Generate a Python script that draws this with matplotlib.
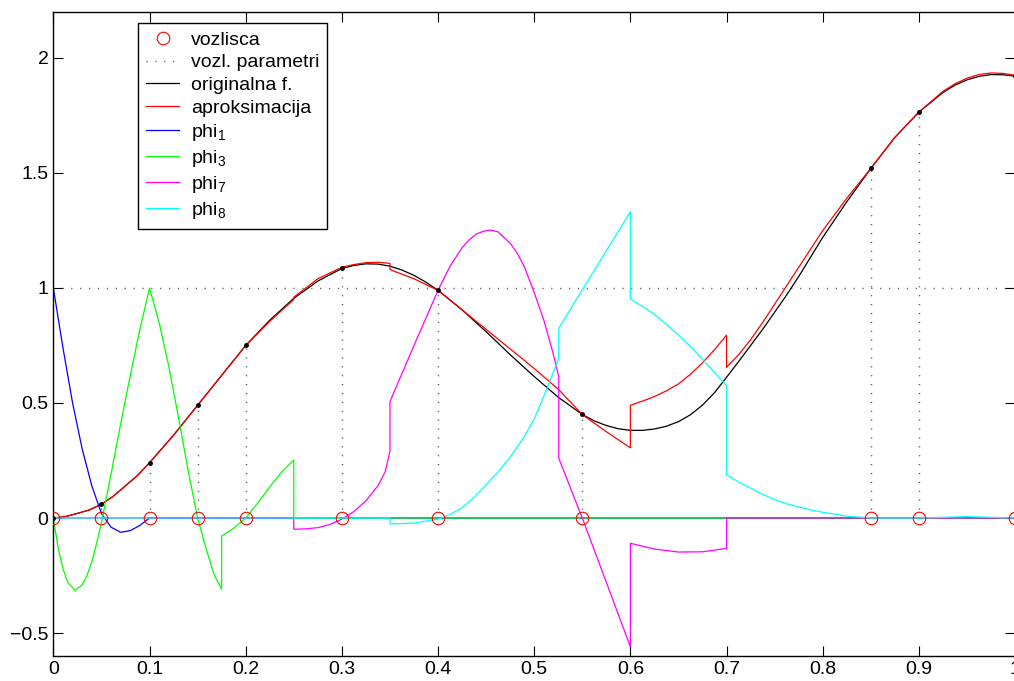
import matplotlib
matplotlib.use("Agg")
import matplotlib.pyplot as plt

plt.rcParams['font.family'] = ['Liberation Sans', 'DejaVu Sans']
plt.rcParams['mathtext.default'] = 'regular'

# vozlisca in vrednosti originalne funkcije v njih
x_nodes = [0, 0.05, 0.1, 0.15, 0.2, 0.3, 0.4, 0.55, 0.85, 0.9, 1.0]
f_nodes = [0, 0.06, 0.24, 0.49, 0.75, 1.085, 0.99, 0.45, 1.52, 1.765, 1.92]

# originalna funkcija
orig_x = [0, 0.0125, 0.025, 0.0375, 0.05, 0.0625, 0.075, 0.0875, 0.1, 0.125,
          0.15, 0.175, 0.2, 0.225, 0.25, 0.275, 0.3, 0.3125, 0.325, 0.3375,
          0.35, 0.3625, 0.375, 0.3875, 0.4, 0.425, 0.45, 0.475, 0.5, 0.525,
          0.55, 0.5625, 0.575, 0.5875, 0.6, 0.6125, 0.625, 0.6375, 0.65, 0.6625,
          0.675, 0.6875, 0.7, 0.7125, 0.725, 0.7375, 0.75, 0.7625, 0.775, 0.8,
          0.825, 0.85, 0.875, 0.9, 0.925, 0.9375, 0.95, 0.9625, 0.975, 0.9875, 1.0]
orig_y = [0.0, 0.006, 0.02, 0.035, 0.06, 0.095, 0.14, 0.185, 0.24, 0.36,
          0.49, 0.62, 0.75, 0.86, 0.955, 1.03, 1.085, 1.098, 1.105, 1.104,
          1.095, 1.078, 1.055, 1.025, 0.99, 0.905, 0.81, 0.71, 0.615, 0.525,
          0.45, 0.422, 0.402, 0.388, 0.381, 0.381, 0.387, 0.399, 0.419, 0.449,
          0.491, 0.545, 0.612, 0.68, 0.75, 0.82, 0.895, 0.97, 1.05, 1.22,
          1.375, 1.52, 1.655, 1.765, 1.85, 1.882, 1.905, 1.92, 1.928, 1.927, 1.921]

# aproksimacija (podvojeni x so skoki)
apr_x = [0, 0.0125, 0.025, 0.0375, 0.05, 0.0625, 0.075, 0.0875, 0.1, 0.125,
         0.15, 0.175, 0.2, 0.225, 0.25, 0.25, 0.2625, 0.275, 0.3, 0.3125,
         0.325, 0.3375, 0.35, 0.35, 0.375, 0.4, 0.425, 0.45, 0.475, 0.5,
         0.525, 0.55, 0.575, 0.6, 0.6, 0.6125, 0.625, 0.6375, 0.65, 0.6625,
         0.675, 0.6875, 0.7, 0.7, 0.7125, 0.725, 0.7375, 0.75, 0.7625, 0.775,
         0.7875, 0.8, 0.8125, 0.825, 0.8375, 0.85, 0.875, 0.9, 0.925, 0.9375,
         0.95, 0.9625, 0.975, 0.9875, 1.0]
apr_y = [0.0, 0.006, 0.02, 0.035, 0.06, 0.095, 0.14, 0.185, 0.24, 0.36,
         0.49, 0.62, 0.75, 0.855, 0.95, 0.96, 1.0, 1.04, 1.09, 1.102,
         1.11, 1.112, 1.107, 1.08, 1.04, 0.99, 0.905, 0.82, 0.735, 0.65,
         0.56, 0.45, 0.375, 0.305, 0.49, 0.508, 0.528, 0.553, 0.583, 0.625,
         0.675, 0.732, 0.795, 0.655, 0.71, 0.775, 0.85, 0.93, 1.01, 1.09,
         1.17, 1.25, 1.32, 1.39, 1.455, 1.52, 1.655, 1.765, 1.855, 1.888,
         1.912, 1.928, 1.935, 1.933, 1.925]

phi1_x = [0, 0.01, 0.02, 0.03, 0.04, 0.05, 0.06, 0.07, 0.08, 0.09, 0.1, 1.0]
phi1_y = [1.0, 0.74, 0.50, 0.30, 0.14, 0.02, -0.04, -0.062, -0.055, -0.032, 0.0, 0.0]

phi3_x = [0, 0.005, 0.01, 0.015, 0.0225, 0.03, 0.035, 0.04, 0.045, 0.05,
          0.06, 0.07, 0.08, 0.09, 0.1, 0.11, 0.12, 0.13, 0.14, 0.15,
          0.16, 0.1675, 0.175, 0.175, 0.1875, 0.2, 0.2125, 0.225, 0.2375, 0.25,
          0.25, 1.0]
phi3_y = [0.0, -0.13, -0.22, -0.28, -0.315, -0.29, -0.25, -0.19, -0.11, -0.02,
          0.19, 0.41, 0.62, 0.82, 1.0, 0.85, 0.66, 0.44, 0.21, 0.0,
          -0.15, -0.25, -0.31, -0.078, -0.045, 0.0, 0.065, 0.135, 0.2, 0.252,
          0.0, 0.0]

phi7_x = [0, 0.25, 0.25, 0.2625, 0.275, 0.2875, 0.3, 0.3125, 0.325, 0.3375,
          0.345, 0.35, 0.35, 0.375, 0.4, 0.4125, 0.425, 0.4325, 0.44, 0.4475,
          0.454, 0.4625, 0.475, 0.4825, 0.49, 0.5, 0.51, 0.52, 0.5255, 0.5255,
          0.55, 0.575, 0.6, 0.6, 0.625, 0.65, 0.675, 0.7, 0.7, 1.0]
phi7_y = [0.0, 0.0, -0.049, -0.047, -0.042, -0.028, -0.005, 0.028, 0.075, 0.14,
          0.2, 0.29, 0.506, 0.75, 0.99, 1.095, 1.175, 1.21, 1.235, 1.247,
          1.252, 1.244, 1.195, 1.15, 1.09, 0.98, 0.86, 0.71, 0.614, 0.26,
          0.0, -0.28, -0.56, -0.11, -0.135, -0.148, -0.147, -0.132, 0.0, 0.0]

phi8_x = [0, 0.35, 0.35, 0.375, 0.4, 0.4125, 0.425, 0.4375, 0.45, 0.4625,
          0.475, 0.4875, 0.5, 0.5125, 0.5255, 0.5255, 0.6, 0.6, 0.6125, 0.625,
          0.6375, 0.65, 0.6625, 0.675, 0.6875, 0.7, 0.7, 0.7125, 0.725, 0.7375,
          0.75, 0.7625, 0.775, 0.7875, 0.8, 0.825, 0.85, 0.9, 0.95, 1.0]
phi8_y = [0.0, 0.0, -0.026, -0.022, -0.005, 0.015, 0.045, 0.09, 0.145, 0.2,
          0.265, 0.34, 0.43, 0.555, 0.694, 0.825, 1.332, 0.952, 0.92, 0.885,
          0.842, 0.795, 0.745, 0.69, 0.633, 0.575, 0.187, 0.157, 0.13, 0.103,
          0.08, 0.062, 0.048, 0.035, 0.025, 0.008, 0.0, 0.0, 0.006, 0.0]

x_ticks = [0, 0.1, 0.2, 0.3, 0.4, 0.5, 0.6, 0.7, 0.8, 0.9, 1.0]
x_tick_labels = ['0', '0.1', '0.2', '0.3', '0.4', '0.5', '0.6', '0.7', '0.8', '0.9', '1']
y_ticks = [-0.5, 0, 0.5, 1, 1.5, 2]
y_tick_labels = ['\u22120.5', '0', '0.5', '1', '1.5', '2']

fig = plt.figure(figsize=(10.14, 6.81), dpi=100)
ax = fig.add_axes([0.0526, 0.0367, 0.9485, 0.9457])

dots = (0, (0.8, 5.6))
ax.plot(x_nodes, [0] * len(x_nodes), 'o', color='red', mfc='none', ms=9, mew=0.8,
        label='vozlisca', zorder=5)
# navpicne pikcaste crte do vrednosti v vozliscih + vodoravna pri 1
for xi, fi in zip(x_nodes, f_nodes):
    ax.plot([xi, xi], [0, fi], color='0.3', lw=1, ls=dots)
ax.plot([0, 1], [1, 1], color='0.3', lw=1, ls=dots, label='vozl. parametri')

ax.plot(orig_x, orig_y, color='black', lw=0.9, label='originalna f.')
ax.plot(apr_x, apr_y, color='red', lw=0.9, label='aproksimacija')
ax.plot(phi1_x, phi1_y, color='blue', lw=0.9, label='phi$_1$')
ax.plot(phi3_x, phi3_y, color='lime', lw=0.9, label='phi$_3$')
ax.plot(phi7_x, phi7_y, color='magenta', lw=0.9, label='phi$_7$')
ax.plot(phi8_x, phi8_y, color='cyan', lw=0.9, label='phi$_8$')
ax.plot(x_nodes, f_nodes, '.', color='black', ms=5, zorder=6)

ax.set_xlim(0, 1)
ax.set_ylim(-0.6, 2.2)
ax.set_xticks(x_ticks)
ax.set_xticklabels(x_tick_labels)
ax.set_yticks(y_ticks)
ax.set_yticklabels(y_tick_labels)
ax.tick_params(direction='in', top=True, right=True, length=7, width=0.8, labelsize=14)
for s in ax.spines.values():
    s.set_linewidth(1.0)

leg = ax.legend(loc='upper left', bbox_to_anchor=(0.0884, 0.9825), borderaxespad=0,
                fontsize=14, handlelength=1.7, handletextpad=0.6, labelspacing=0.26,
                borderpad=0.4, fancybox=False, framealpha=1, edgecolor='black')
leg.get_frame().set_linewidth(1.0)

fig.savefig('out.png', dpi=100)
